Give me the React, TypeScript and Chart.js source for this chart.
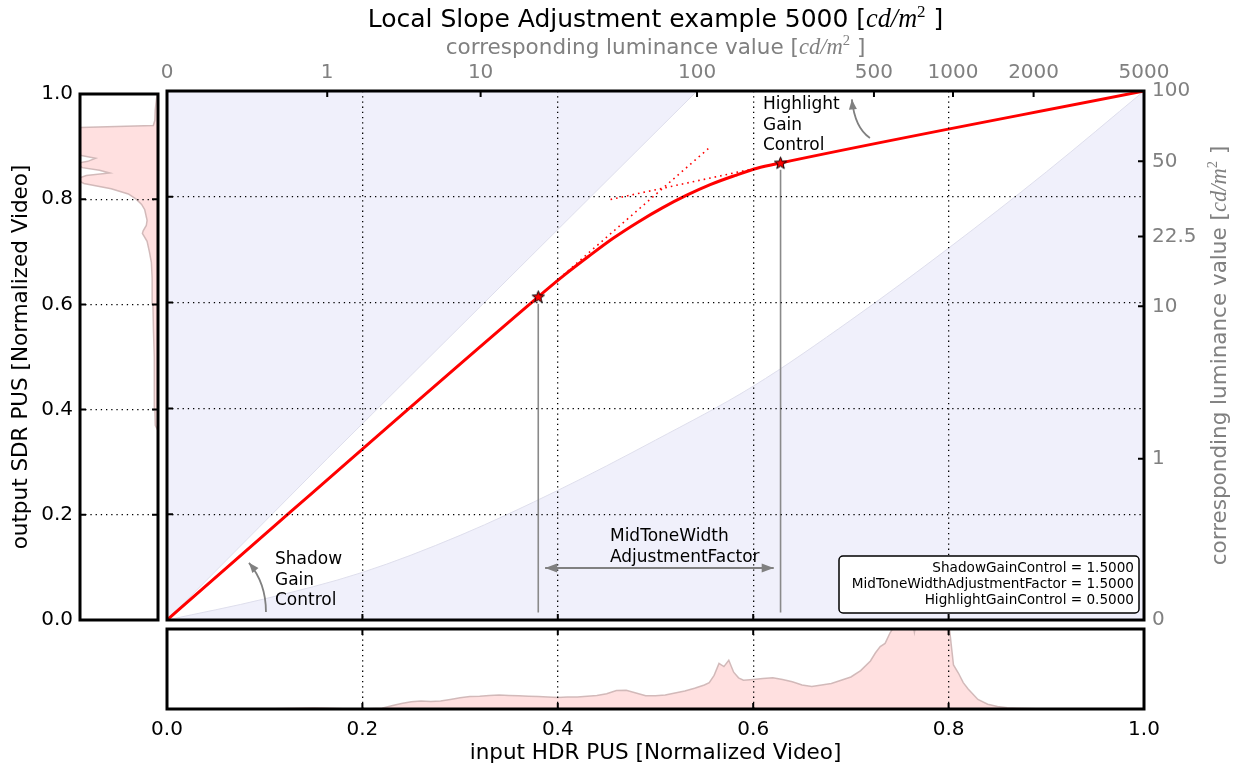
import React, { useEffect, useRef } from "react";
import { Chart, registerables } from "chart.js";

Chart.register(...registerables);

// ---- tone curve: input HDR PUS -> output SDR PUS ----
const curveIn = [0, 0.38, 0.406, 0.432, 0.457, 0.482, 0.507, 0.532, 0.556, 0.581, 0.604, 0.628, 1.0];
const curveOut = [0, 0.611, 0.651, 0.688, 0.722, 0.752, 0.779, 0.803, 0.823, 0.84, 0.854, 0.864, 1.0];

// knee points of the curve
const kneeIn = [0.38, 0.628];
const kneeOut = [0.611, 0.864];

// slope guides through the knees
const shadowSlopeIn = [0.38, 0.554];
const shadowSlopeOut = [0.611, 0.891];
const highlightSlopeIn = [0.454, 0.628];
const highlightSlopeOut = [0.795, 0.864];

// limits of the allowed mapping region
const sdrLimitIn = [0, 0.164, 0.321, 0.5425];
const sdrLimitOut = [0, 0.305, 0.593, 1.0];
const hdrLimitIn = [0, 0.1, 0.2, 0.3, 0.4, 0.5, 0.6, 0.7, 0.8, 0.9, 1.0];
const hdrLimitOut = [0, 0.04, 0.09, 0.16, 0.245, 0.34, 0.442, 0.567, 0.703, 0.847, 1.0];

// luminance scales (cd/m^2) on the secondary axes
const hdrLumLabels = ["0", "1", "10", "100", "500", "1000", "2000", "5000"];
const hdrLumPos = [0, 0.164, 0.321, 0.5425, 0.7236, 0.8045, 0.887, 1.0];
const sdrLumLabels = ["0", "1", "10", "22.5", "50", "100"];
const sdrLumPos = [0, 0.305, 0.593, 0.725, 0.867, 1.0];

// input (HDR) code value histogram, relative to the panel height
const inHistBins = [0, 0.1, 0.12, 0.14, 0.15, 0.16, 0.18, 0.2, 0.22, 0.23, 0.24, 0.25, 0.26, 0.27, 0.28, 0.29, 0.3, 0.31, 0.32, 0.33, 0.34, 0.35, 0.36, 0.37, 0.38, 0.39, 0.4, 0.41, 0.42, 0.43, 0.44, 0.45, 0.46, 0.47, 0.48, 0.49, 0.5, 0.51, 0.52, 0.53, 0.54, 0.55, 0.555, 0.56, 0.565, 0.57, 0.575, 0.58, 0.585, 0.59, 0.6, 0.61, 0.62, 0.63, 0.64, 0.65, 0.66, 0.67, 0.68, 0.69, 0.7, 0.71, 0.72, 0.725, 0.73, 0.735, 0.74, 0.745, 0.75, 0.76, 0.765, 0.77, 0.78, 0.79, 0.8, 0.805, 0.81, 0.815, 0.82, 0.83, 0.84, 0.85, 0.86, 0.87, 0.88, 0.9, 1.0];
const inHistCounts = [0, 0, 0.005, 0.012, 0.015, 0.012, 0.003, 0, 0.01, 0.04, 0.07, 0.09, 0.1, 0.095, 0.1, 0.12, 0.14, 0.155, 0.16, 0.17, 0.175, 0.17, 0.165, 0.16, 0.155, 0.15, 0.145, 0.15, 0.15, 0.16, 0.17, 0.19, 0.23, 0.235, 0.2, 0.165, 0.165, 0.175, 0.2, 0.225, 0.26, 0.3, 0.33, 0.42, 0.57, 0.53, 0.61, 0.46, 0.39, 0.36, 0.37, 0.38, 0.39, 0.37, 0.34, 0.3, 0.28, 0.3, 0.32, 0.36, 0.4, 0.48, 0.6, 0.7, 0.78, 0.82, 0.95, 1.05, 1.2, 1.3, 0.96, 1.3, 1.25, 1.2, 1.1, 0.55, 0.45, 0.33, 0.25, 0.12, 0.06, 0.03, 0.015, 0.01, 0.005, 0, 0];

// output (SDR) code value histogram, relative to the panel width
const outHistLevels = [0.36, 0.37, 0.4, 0.45, 0.5, 0.55, 0.6, 0.65, 0.68, 0.7, 0.72, 0.735, 0.74, 0.75, 0.76, 0.78, 0.79, 0.8, 0.81, 0.82, 0.83, 0.838, 0.845, 0.85, 0.855, 0.86, 0.868, 0.872, 0.878, 0.885, 0.9, 0.92, 0.936, 0.94, 0.95, 0.97, 0.99, 1.0];
const outHistShare = [0, 0.035, 0.04, 0.045, 0.05, 0.058, 0.065, 0.075, 0.085, 0.11, 0.14, 0.2, 0.19, 0.15, 0.14, 0.17, 0.21, 0.28, 0.38, 0.6, 0.95, 1.05, 0.92, 0.62, 0.75, 0.97, 1.05, 0.9, 0.8, 1.05, 1.1, 1.1, 1.05, 0.06, 0.04, 0.035, 0.02, 0.01];

// tone mapping parameters
const paramNames = ["ShadowGainControl", "MidToneWidthAdjustmentFactor", "HighlightGainControl"];
const paramValues = [1.5, 1.5, 0.5];

const FONT = "'DejaVu Sans', 'Noto Sans', sans-serif";
const MATH = "'Liberation Serif', 'DejaVu Serif', serif";
const LAVENDER = "#F0F0FB";
const LAVENDER_EDGE = "#DEDEEC";
const PINK = "#FFE0E0";
const PINK_EDGE = "rgba(205,180,180,0.9)";
const GRAY = "#808080";
const GRID_DASH = [1.3, 3.9];

Chart.defaults.font.family = FONT;

const pts = (xs: number[], ys: (number | null)[]) => xs.map((x, i) => ({ x, y: ys[i] }));

const innerGrid = (c: any) => {
  const v = c.tick ? c.tick.value : 0;
  return v > 1e-6 && v < 1 - 1e-6 ? "#000" : "rgba(0,0,0,0)";
};

const dottedGrid = { color: innerGrid, lineWidth: 1.3, drawTicks: false, z: 1 };

const innerPixels = (s: any) =>
  s.ticks.filter((t: any) => t.value > 1e-6 && t.value < 1 - 1e-6).map((t: any) => s.getPixelForValue(t.value));

function drawFrame(ctx: CanvasRenderingContext2D, a: any) {
  ctx.save();
  ctx.lineWidth = 3;
  ctx.strokeStyle = "#000";
  ctx.strokeRect(a.left, a.top, a.right - a.left, a.bottom - a.top);
  ctx.restore();
}

function tickMarks(ctx: CanvasRenderingContext2D, side: string, pixels: number[], a: any, len = 6) {
  ctx.save();
  ctx.lineWidth = 2;
  ctx.strokeStyle = "#000";
  ctx.beginPath();
  for (const p of pixels) {
    if (side === "bottom") { ctx.moveTo(p, a.bottom); ctx.lineTo(p, a.bottom - len); }
    if (side === "top") { ctx.moveTo(p, a.top); ctx.lineTo(p, a.top + len); }
    if (side === "left") { ctx.moveTo(a.left, p); ctx.lineTo(a.left + len, p); }
    if (side === "right") { ctx.moveTo(a.right, p); ctx.lineTo(a.right - len, p); }
  }
  ctx.stroke();
  ctx.restore();
}

type Run = { text: string; font: string; rise?: number };

function unitRuns(prefix: string, size: number): Run[] {
  return [
    { text: prefix + " [", font: `${size}px ${FONT}` },
    { text: "cd/m", font: `italic ${size * 1.05}px ${MATH}` },
    { text: "2", font: `${size * 0.68}px ${MATH}`, rise: size * 0.42 },
    { text: " ]", font: `${size}px ${FONT}` },
  ];
}

function drawRuns(ctx: CanvasRenderingContext2D, runs: Run[], cx: number, cy: number, color: string, size: number) {
  ctx.save();
  let w = 0;
  for (const r of runs) { ctx.font = r.font; w += ctx.measureText(r.text).width; }
  let x = cx - w / 2;
  ctx.fillStyle = color;
  ctx.textAlign = "left";
  ctx.textBaseline = "alphabetic";
  const base = cy + size * 0.36;
  for (const r of runs) {
    ctx.font = r.font;
    ctx.fillText(r.text, x, base - (r.rise || 0));
    x += ctx.measureText(r.text).width;
  }
  ctx.restore();
}

function arrowHead(ctx: CanvasRenderingContext2D, fx: number, fy: number, tx: number, ty: number, len: number, wid: number) {
  const ang = Math.atan2(ty - fy, tx - fx);
  const bx = tx - len * Math.cos(ang), by = ty - len * Math.sin(ang);
  const nx = -Math.sin(ang) * wid / 2, ny = Math.cos(ang) * wid / 2;
  ctx.beginPath();
  ctx.moveTo(tx, ty);
  ctx.lineTo(bx + nx, by + ny);
  ctx.lineTo(bx - nx, by - ny);
  ctx.closePath();
  ctx.fill();
}

function curvedArrow(ctx: CanvasRenderingContext2D, p0: number[], c: number[], p1: number[], both = false, len = 10, wid = 8) {
  ctx.save();
  ctx.strokeStyle = GRAY;
  ctx.fillStyle = GRAY;
  ctx.lineWidth = 1.8;
  ctx.beginPath();
  ctx.moveTo(p0[0], p0[1]);
  ctx.quadraticCurveTo(c[0], c[1], p1[0], p1[1]);
  ctx.stroke();
  arrowHead(ctx, c[0], c[1], p1[0], p1[1], len, wid);
  if (both) arrowHead(ctx, c[0], c[1], p0[0], p0[1], len, wid);
  ctx.restore();
}

function makeStar(): HTMLCanvasElement {
  const c = document.createElement("canvas");
  c.width = 15;
  c.height = 15;
  const g = c.getContext("2d")!;
  g.beginPath();
  for (let i = 0; i < 10; i++) {
    const r = i % 2 === 0 ? 6.4 : 2.7;
    const a = -Math.PI / 2 + (i * Math.PI) / 5;
    const px = 7.5 + r * Math.cos(a), py = 7.9 + r * Math.sin(a);
    if (i === 0) g.moveTo(px, py); else g.lineTo(px, py);
  }
  g.closePath();
  g.fillStyle = "#ff0000";
  g.fill();
  g.lineWidth = 1;
  g.strokeStyle = "#000";
  g.stroke();
  return c;
}

const mainDecor = {
  id: "mainDecor",
  afterDraw(chart: any) {
    const ctx: CanvasRenderingContext2D = chart.ctx;
    const a = chart.chartArea;
    const sx = chart.scales.x, sy = chart.scales.y;
    const X = (v: number) => sx.getPixelForValue(v);
    const Y = (v: number) => sy.getPixelForValue(v);

    drawFrame(ctx, a);
    tickMarks(ctx, "bottom", innerPixels(sx), a);
    tickMarks(ctx, "left", innerPixels(sy), a);
    tickMarks(ctx, "top", innerPixels(chart.scales.xTop), a);
    tickMarks(ctx, "right", innerPixels(chart.scales.yRight), a);

    const cx = (a.left + a.right) / 2;
    drawRuns(ctx, unitRuns("Local Slope Adjustment example 5000", 25), cx, 18, "#000", 25);
    drawRuns(ctx, unitRuns("corresponding luminance value", 21.5), cx, 46, GRAY, 21.5);
    ctx.save();
    ctx.translate(a.right + 74, (a.top + a.bottom) / 2);
    ctx.rotate(-Math.PI / 2);
    drawRuns(ctx, unitRuns("corresponding luminance value", 21.5), 0, 0, GRAY, 21.5);
    ctx.restore();

    // annotations
    ctx.save();
    ctx.fillStyle = "#000";
    ctx.font = `17px ${FONT}`;
    ctx.textAlign = "left";
    ctx.textBaseline = "middle";
    const lines = (words: string[], x: number, y: number) =>
      words.forEach((w, i) => ctx.fillText(w, X(x), Y(y) + i * 20.5));
    lines(["Highlight", "Gain", "Control"], 0.61, 0.974);
    lines(["Shadow", "Gain", "Control"], 0.1105, 0.1134);
    lines(["MidToneWidth", "AdjustmentFactor"], 0.4534, 0.157);
    ctx.restore();

    curvedArrow(ctx, [X(0.7195), Y(0.911)], [X(0.704), Y(0.93)], [X(0.701), Y(0.984)]);
    curvedArrow(ctx, [X(0.1013), Y(0.015)], [X(0.1013), Y(0.07)], [X(0.0839), Y(0.108)]);
    curvedArrow(ctx, [X(0.387), Y(0.0983)], [X(0.504), Y(0.0983)], [X(0.621), Y(0.0983)], true, 12, 9);

    // parameter box
    const bw = 300, bh = 57;
    const bx = a.right - 5 - bw, by = a.bottom - 7 - bh;
    ctx.save();
    ctx.fillStyle = "#fff";
    ctx.strokeStyle = "#000";
    ctx.lineWidth = 1.5;
    ctx.beginPath();
    (ctx as any).roundRect(bx, by, bw, bh, 4);
    ctx.fill();
    ctx.stroke();
    ctx.fillStyle = "#000";
    ctx.font = `13.6px ${FONT}`;
    ctx.textAlign = "right";
    ctx.textBaseline = "middle";
    paramNames.forEach((n, i) => {
      ctx.fillText(`${n} = ${paramValues[i].toFixed(4)}`, bx + bw - 5, by + 12 + i * 16);
    });
    ctx.restore();
  },
};

const sdrDecor = {
  id: "sdrDecor",
  afterDraw(chart: any) {
    const a = chart.chartArea;
    drawFrame(chart.ctx, a);
    const p = innerPixels(chart.scales.y);
    tickMarks(chart.ctx, "left", p, a);
    tickMarks(chart.ctx, "right", p, a);
  },
};

const hdrDecor = {
  id: "hdrDecor",
  afterDraw(chart: any) {
    const a = chart.chartArea;
    drawFrame(chart.ctx, a);
    const p = innerPixels(chart.scales.x);
    tickMarks(chart.ctx, "bottom", p, a);
    tickMarks(chart.ctx, "top", p, a);
  },
};

export default function App() {
  const mainRef = useRef<HTMLCanvasElement>(null);
  const sdrRef = useRef<HTMLCanvasElement>(null);
  const hdrRef = useRef<HTMLCanvasElement>(null);

  useEffect(() => {
    const star = makeStar();
    const common = {
      animation: false as const,
      responsive: false,
      events: [] as any[],
      plugins: { legend: { display: false }, tooltip: { enabled: false }, title: { display: false } },
    };

    const main = new Chart(mainRef.current!, {
      type: "line",
      data: {
        datasets: [
          { data: pts(kneeIn, kneeOut), showLine: false, pointStyle: star as any, pointRadius: 7, xAxisID: "x", yAxisID: "y" },
          { data: pts(curveIn, curveOut), borderColor: "#ff0000", borderWidth: 3, pointRadius: 0, cubicInterpolationMode: "monotone", fill: false, xAxisID: "x", yAxisID: "y" },
          { data: pts(shadowSlopeIn, shadowSlopeOut), borderColor: "#ff0000", borderWidth: 1.6, borderDash: [1.6, 4], pointRadius: 0, fill: false, xAxisID: "x", yAxisID: "y" },
          { data: pts(highlightSlopeIn, highlightSlopeOut), borderColor: "#ff0000", borderWidth: 1.6, borderDash: [1.6, 4], pointRadius: 0, fill: false, xAxisID: "x", yAxisID: "y" },
          {
            data: [
              { x: kneeIn[0], y: 0.014 }, { x: kneeIn[0], y: kneeOut[0] - 0.013 }, { x: kneeIn[0], y: null },
              { x: kneeIn[1], y: 0.014 }, { x: kneeIn[1], y: kneeOut[1] - 0.013 },
            ],
            borderColor: "#8a8a8a", borderWidth: 1.6, pointRadius: 0, spanGaps: false, fill: false, xAxisID: "x", yAxisID: "y",
          },
          { data: pts(sdrLimitIn, sdrLimitOut), borderColor: LAVENDER_EDGE, borderWidth: 1, backgroundColor: LAVENDER, fill: "end", pointRadius: 0, xAxisID: "x", yAxisID: "y" },
          { data: pts(hdrLimitIn, hdrLimitOut), borderColor: LAVENDER_EDGE, borderWidth: 1, backgroundColor: LAVENDER, fill: "start", pointRadius: 0, cubicInterpolationMode: "monotone", xAxisID: "x", yAxisID: "y" },
        ] as any,
      },
      options: {
        ...common,
        layout: { padding: 0 },
        scales: {
          x: {
            type: "linear", position: "bottom", min: 0, max: 1,
            ticks: { display: false, stepSize: 0.2 },
            grid: dottedGrid,
            border: { display: false, dash: GRID_DASH },
            afterFit: (s: any) => { s.height = 20; },
          },
          y: {
            type: "linear", position: "left", min: 0, max: 1,
            ticks: { display: false, stepSize: 0.2 },
            grid: dottedGrid,
            border: { display: false, dash: GRID_DASH },
            afterFit: (s: any) => { s.width = 167; },
          },
          xTop: {
            type: "linear", position: "top", min: 0, max: 1,
            afterBuildTicks: (s: any) => { s.ticks = hdrLumPos.map((v) => ({ value: v })); },
            ticks: {
              autoSkip: false, maxRotation: 0, color: GRAY, font: { size: 20 }, padding: 6,
              callback: (_v: any, i: number) => hdrLumLabels[i],
            },
            grid: { display: false, drawTicks: false },
            border: { display: false },
            afterFit: (s: any) => { s.height = 91; },
          },
          yRight: {
            type: "linear", position: "right", min: 0, max: 1,
            afterBuildTicks: (s: any) => { s.ticks = sdrLumPos.map((v) => ({ value: v })); },
            ticks: {
              autoSkip: false, color: GRAY, font: { size: 20 }, padding: 8,
              callback: (_v: any, i: number) => sdrLumLabels[i],
            },
            grid: { display: false, drawTicks: false },
            border: { display: false },
            afterFit: (s: any) => { s.width = 89; },
          },
        } as any,
      },
      plugins: [mainDecor],
    });

    const sdr = new Chart(sdrRef.current!, {
      type: "line",
      data: {
        datasets: [
          {
            data: pts(outHistShare, outHistLevels) as any,
            fill: "origin", backgroundColor: PINK, borderColor: PINK_EDGE, borderWidth: 1.5, pointRadius: 0,
          },
        ],
      },
      options: {
        ...common,
        indexAxis: "y",
        layout: { padding: { top: 16, bottom: 20, right: 9, left: 0 } },
        scales: {
          x: { type: "linear", min: 0, max: 1, reverse: true, display: false },
          y: {
            type: "linear", position: "left", min: 0, max: 1,
            ticks: { stepSize: 0.2, color: "#000", font: { size: 20 }, padding: 7, callback: (v: any) => Number(v).toFixed(1) },
            grid: dottedGrid,
            border: { display: false, dash: GRID_DASH },
            title: { display: true, text: "output SDR PUS [Normalized Video]", color: "#000", font: { size: 21.5 }, padding: { top: 9, bottom: 0 } },
            afterFit: (s: any) => { s.width = 80; },
          },
        } as any,
      },
      plugins: [sdrDecor],
    });

    const hdr = new Chart(hdrRef.current!, {
      type: "line",
      data: {
        datasets: [
          {
            data: pts(inHistBins, inHistCounts) as any,
            fill: "origin", backgroundColor: PINK, borderColor: PINK_EDGE, borderWidth: 1.5, pointRadius: 0,
          },
        ],
      },
      options: {
        ...common,
        layout: { padding: { top: 9, bottom: 0, left: 167, right: 89 } },
        scales: {
          x: {
            type: "linear", position: "bottom", min: 0, max: 1,
            ticks: { stepSize: 0.2, color: "#000", font: { size: 20 }, padding: 9, maxRotation: 0, callback: (v: any) => Number(v).toFixed(1) },
            grid: dottedGrid,
            border: { display: false, dash: GRID_DASH },
            title: { display: true, text: "input HDR PUS [Normalized Video]", color: "#000", font: { size: 21.5 }, padding: { top: 0, bottom: 3 } },
            afterFit: (s: any) => { s.height = 60; },
          },
          y: { type: "linear", min: 0, max: 1, display: false },
        } as any,
      },
      plugins: [hdrDecor],
    });

    return () => {
      main.destroy();
      sdr.destroy();
      hdr.destroy();
    };
  }, []);

  return (
    <div style={{ position: "absolute", left: 0, top: 0, width: 1233, height: 769, background: "#fff", overflow: "hidden" }}>
      <canvas ref={sdrRef} width={167} height={565} style={{ position: "absolute", left: 0, top: 75, width: 167, height: 565 }} />
      <canvas ref={hdrRef} width={1233} height={149} style={{ position: "absolute", left: 0, top: 620, width: 1233, height: 149 }} />
      <canvas ref={mainRef} width={1233} height={640} style={{ position: "absolute", left: 0, top: 0, width: 1233, height: 640 }} />
    </div>
  );
}
